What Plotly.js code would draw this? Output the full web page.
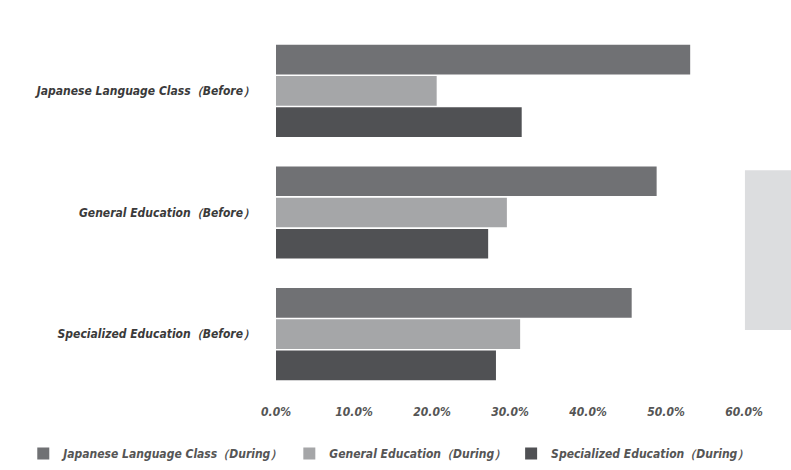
<!DOCTYPE html>
<html>
<head>
<meta charset="utf-8">
<script src="https://cdn.plot.ly/plotly-3.0.1.min.js"></script>
<style>html,body{margin:0;padding:0;background:#fff;}#chart{width:791px;height:470px;}</style>
</head>
<body>
<div id="chart"></div>
<script>
const categories = ["Japanese Language Class（Before）", "General Education（Before）", "Specialized Education（Before）"];
const seriesNames = ["Japanese Language Class（During）", "General Education（During）", "Specialized Education（During）"];
const japaneseDuring = [53.1, 48.8, 45.6];
const generalDuring = [20.6, 29.6, 31.3];
const specializedDuring = [31.5, 27.2, 28.2];
const xTickValues = [0, 10, 20, 30, 40, 50, 60];
const xTickLabels = ["0.0%", "10.0%", "20.0%", "30.0%", "40.0%", "50.0%", "60.0%"];

const colors = ["#707174", "#a5a6a8", "#505154"];
const seriesValues = [japaneseDuring, generalDuring, specializedDuring];
const fontFam = "'Liberation Sans Narrow', 'DejaVu Sans Condensed', 'Liberation Sans', sans-serif";

const traces = seriesValues.map((vals, i) => ({
  type: "bar",
  orientation: "h",
  name: seriesNames[i],
  y: categories,
  x: vals,
  marker: {color: colors[i], line: {width: 0}},
  hoverinfo: "x+name"
}));

const layout = {
  width: 791, height: 470,
  margin: {l: 276, r: 47, t: 30, b: 75, autoexpand: false},
  paper_bgcolor: "#ffffff",
  plot_bgcolor: "#ffffff",
  barmode: "group",
  bargap: 0.23,
  bargroupgap: 0.05,
  font: {family: fontFam, color: "#555", size: 12},
  xaxis: {
    range: [0, 60],
    tickvals: xTickValues,
    ticktext: xTickLabels,
    showgrid: false,
    zeroline: false,
    showline: false,
    ticks: "",
    ticklabelstandoff: 8,
    automargin: false,
    tickfont: {family: fontFam, size: 12, color: "#555", style: "italic", weight: "bold"}
  },
  yaxis: {
    autorange: "reversed",
    showgrid: false,
    zeroline: false,
    showline: false,
    ticks: "",
    ticklabelstandoff: 20,
    automargin: false,
    tickfont: {family: fontFam, size: 12, color: "#3a3a3a", style: "italic", weight: "bold"}
  },
  legend: {
    orientation: "h",
    x: -0.54, xanchor: "left",
    y: -0.16, yanchor: "middle",
    font: {family: fontFam, size: 12, color: "#555", style: "italic", weight: "bold"},
    itemwidth: 30,
    tracegroupgap: 0
  },
  shapes: [{
    type: "rect", xref: "paper", yref: "paper",
    x0: 1.002, x1: 1.11, y0: 0.178, y1: 0.616,
    fillcolor: "#dcdddf", line: {width: 0}, layer: "below"
  }],
  showlegend: true
};

Plotly.newPlot("chart", traces, layout, {displayModeBar: false, staticPlot: true});
</script>
</body>
</html>
